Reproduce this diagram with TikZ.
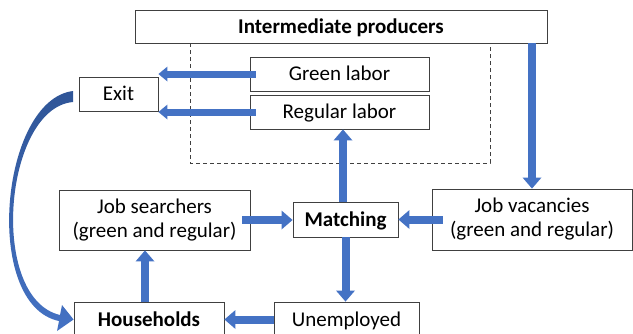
\documentclass[tikz,border=0pt]{standalone}
\usepackage{fontspec}
\setmainfont{Carlito}
\usetikzlibrary{arrows.meta}
\definecolor{arrowblue}{HTML}{4472C4}
\definecolor{deepblue}{HTML}{2F5597}
\definecolor{boxline}{HTML}{404040}
\begin{document}
\begin{tikzpicture}[x=1pt,y=-1pt,
  box/.style={draw=boxline,line width=0.9pt,fill=white,inner sep=0pt,font=\fontsize{21}{24}\selectfont},
  one/.style={box,text height=13.5pt,text depth=0pt},
  two/.style={box,align=center},
  bold/.style={font=\bfseries\fontsize{21}{24}\selectfont},
  flow/.style={draw=arrowblue,line width=8pt,-{Triangle[width=19pt,length=11pt,line width=0pt]}},
  thinflow/.style={draw=arrowblue,line width=7pt,-{Triangle[width=15pt,length=9pt,line width=0pt]}},
  grouping/.style={draw=boxline,line width=0.9pt,dash pattern=on 4pt off 3pt}
]
\useasboundingbox (0,0) rectangle (633,333);
\clip (0,0) rectangle (633,333);
% dashed grouping frame
\coordinate (ga) at (190,43);
\coordinate (gb) at (190,163);
\coordinate (gc) at (490,163);
\coordinate (gd) at (490,43);
\draw[grouping] (ga) -- (gb) -- (gc) -- (gd);
% boxes
\node[one,bold,minimum width=412pt,minimum height=33pt] (ip) at (341,26.5) {Intermediate producers};
\node[one,minimum width=179pt,minimum height=34pt] (green) at (339.5,74) {Green labor};
\node[one,minimum width=179pt,minimum height=34pt] (regular) at (339.5,112) {Regular labor};
\node[one,minimum width=79pt,minimum height=34pt] (exit) at (118.5,94) {Exit};
\node[two,minimum width=191pt,minimum height=60pt] (js) at (154.5,220) {Job searchers\\(green and regular)};
\node[one,bold,minimum width=105pt,minimum height=35pt] (match) at (345.5,219.5) {Matching};
\node[two,minimum width=200pt,minimum height=61pt] (jv) at (532,219.5) {Job vacancies\\(green and regular)};
\node[one,bold,minimum width=150pt,minimum height=35pt] (hh) at (149,319.5) {Households};
\node[one,minimum width=145pt,minimum height=35pt] (unemp) at (346.5,319.5) {Unemployed};
% straight arrows
\draw[thinflow] ([xshift=6pt]green.west) -- (green.west -| exit.east);
\draw[thinflow] ([xshift=6pt]regular.west) -- (regular.west -| exit.east);
\draw[flow] (ip.south -| jv.north) -- (jv.north);
\draw[flow] ([xshift=11pt]jv.west) -- (match.east);
\draw[flow] ([xshift=-8pt]js.east) -- (js.east -| match.west);
\draw[flow] ([xshift=-2.5pt]match.north) -- ([xshift=-2.5pt]match.north |- regular.south);
\draw[flow] (match.south) -- (match.south |- unemp.north);
\draw[flow] (unemp.west) -- (unemp.west -| hh.east);
\draw[flow] ([xshift=-4pt]hh.north) -- ([xshift=-4pt]hh.north |- js.south);
% tapered curved arrow from Exit to Households
\shade[top color=deepblue,bottom color=arrowblue]
  (73,91) .. controls (0,100) and (-18,305) .. (59,321)
  -- (57,331) -- (hh.west) -- (62,305) -- (60,315)
  .. controls (-12,298) and (4,108) .. (73,102) -- cycle;
\end{tikzpicture}
\end{document}
